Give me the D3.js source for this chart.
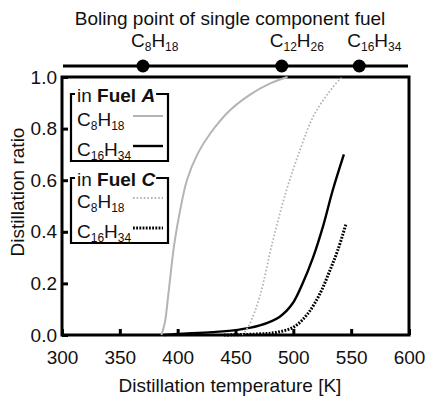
<!DOCTYPE html>
<html>
<head>
    <meta charset="utf-8">
    <script src="https://cdn.jsdelivr.net/npm/d3@7"></script>
    <style>
        body { margin: 0; background: #fff; }
        text { font-family: "Liberation Sans", Arial, sans-serif; }
    </style>
</head>
<body>
    <svg width="426" height="398" id="mainsvg"></svg>
    <script>
        // x ticks and y ticks
        const xTicks = [300, 350, 400, 450, 500, 550, 600];
        const yTicks = [0.0, 0.2, 0.4, 0.6, 0.8, 1.0];

        // boiling points of single component fuels [K]
        const boilNames = ['C8H18', 'C12H26', 'C16H34'];
        const boilTemps = [370, 490, 557];

        // distillation curves: [temperature K, ratio]
        const c8FuelA = [[386, 0], [389, 0.05], [392, 0.16], [397, 0.35], [402, 0.48], [408, 0.6], [417, 0.7],
            [428, 0.78], [445, 0.87], [462, 0.93], [480, 0.975], [495, 1.0]];
        const c16FuelA = [[388, 0], [400, 0.004], [430, 0.011], [452, 0.02], [471, 0.037], [488, 0.07],
            [499, 0.12], [508, 0.2], [517, 0.3], [525.6, 0.42], [534, 0.56], [543.7, 0.70]];
        const c8FuelC = [[456, 0], [462, 0.04], [471, 0.15], [482, 0.36], [494, 0.56], [506, 0.72],
            [517, 0.845], [529, 0.93], [540, 0.99], [543, 1.0]];
        const c16FuelC = [[440, 0], [470, 0.004], [485, 0.01], [500, 0.03], [512, 0.08], [523, 0.16],
            [531.6, 0.25], [538.5, 0.33], [545.5, 0.43]];

        const fuels = ['A', 'C'];
        const formulas = ['C8H18', 'C16H34'];

        const svg = d3.select('#mainsvg');
        const margin = { top: 77, right: 17, bottom: 63, left: 62 };
        const innerWidth = 426 - margin.left - margin.right;
        const innerHeight = 398 - margin.top - margin.bottom;
        const fs = 19;

        const xScale = d3.scaleLinear().domain([300, 600]).range([0, innerWidth]);
        const yScale = d3.scaleLinear().domain([0, 1]).range([innerHeight, 0]);

        const g = svg.append('g')
            .attr('transform', `translate(${margin.left}, ${margin.top})`);

        // write a chemical formula with subscript digits
        const formula = function (sel, str) {
            const parts = str.match(/[A-Z]+|\d+/g);
            let sub = false;
            parts.forEach(p => {
                const isSub = /\d/.test(p);
                sel.append('tspan')
                    .attr('font-size', isSub ? 12 : fs)
                    .attr('dy', isSub === sub ? 0 : (isSub ? 4 : -4))
                    .text(p);
                sub = isSub;
            });
        };

        // axes
        const xAxis = d3.axisBottom(xScale).tickValues(xTicks).tickSize(-6).tickPadding(16)
            .tickFormat(d3.format('d'));
        const yAxis = d3.axisLeft(yScale).tickValues(yTicks).tickSize(-6).tickPadding(5)
            .tickFormat(d3.format('.1f'));

        const xAxisGroup = g.append('g').attr('transform', `translate(0, ${innerHeight})`).call(xAxis);
        const yAxisGroup = g.append('g').call(yAxis);
        [xAxisGroup, yAxisGroup].forEach(ag => {
            ag.select('.domain').remove();
            ag.attr('font-size', fs).attr('font-family', null);
            ag.selectAll('line').attr('stroke', '#000').attr('stroke-width', 3);
            ag.selectAll('text').attr('fill', '#111');
        });

        // frame
        g.append('rect')
            .attr('width', innerWidth).attr('height', innerHeight)
            .attr('fill', 'none').attr('stroke', '#000').attr('stroke-width', 3);

        // curves
        const line = d3.line()
            .x(d => xScale(d[0]))
            .y(d => yScale(d[1]))
            .curve(d3.curveCatmullRom.alpha(0.5));

        const styles = {
            'A-C8H18': { stroke: '#b4b4b4', width: 2, dash: null },
            'A-C16H34': { stroke: '#000', width: 2.4, dash: null },
            'C-C8H18': { stroke: '#b4b4b4', width: 1.8, dash: '1.6,2' },
            'C-C16H34': { stroke: '#000', width: 3, dash: '1.8,1.4' }
        };
        const curves = [
            ['A-C8H18', c8FuelA], ['A-C16H34', c16FuelA],
            ['C-C8H18', c8FuelC], ['C-C16H34', c16FuelC]
        ];
        curves.forEach(([key, data]) => {
            g.append('path')
                .datum(data)
                .attr('d', line)
                .attr('fill', 'none')
                .attr('stroke', styles[key].stroke)
                .attr('stroke-width', styles[key].width)
                .attr('stroke-dasharray', styles[key].dash);
        });

        // legends
        fuels.forEach((fuel, i) => {
            const top = 17 + i * 84;
            const lg = g.append('g').attr('transform', `translate(9, ${top})`);
            const title = lg.append('text').attr('x', 6).attr('y', 8)
                .attr('font-size', fs).attr('fill', '#111');
            title.append('tspan').text('in ');
            title.append('tspan').attr('font-weight', 'bold').text('Fuel ');
            title.append('tspan').attr('font-weight', 'bold').attr('font-style', 'italic').text(fuel);
            const tw = title.node().getComputedTextLength();
            const w = 97, h = i === 0 ? 67 : 65;
            lg.append('path')
                .attr('d', `M${6 + tw + 1},0 H${w} V${h} H0 V0 H4`)
                .attr('fill', 'none').attr('stroke', '#000').attr('stroke-width', 2.2);
            formulas.forEach((f, j) => {
                const yb = 32 + j * 30 - (i === 0 ? 0 : 2);
                const t = lg.append('text').attr('x', 6).attr('y', yb)
                    .attr('font-size', fs).attr('fill', '#111');
                formula(t, f);
                const st = styles[fuel + '-' + f];
                lg.append('line')
                    .attr('x1', 62).attr('x2', 92)
                    .attr('y1', yb - 10).attr('y2', yb - 10)
                    .attr('stroke', st.stroke)
                    .attr('stroke-width', st.width)
                    .attr('stroke-dasharray', st.dash);
            });
        });

        // boiling point line above the plot
        const bg = g.append('g').attr('transform', 'translate(0, -11)');
        bg.append('line')
            .attr('x1', 1).attr('x2', innerWidth - 1)
            .attr('stroke', '#000').attr('stroke-width', 3);
        bg.selectAll('circle').data(boilTemps).join('circle')
            .attr('cx', d => xScale(d)).attr('cy', 0).attr('r', 6.5).attr('fill', '#000');
        boilNames.forEach((n, i) => {
            const t = bg.append('text')
                .attr('x', xScale(boilTemps[i]) - 12)
                .attr('y', -19)
                .attr('font-size', fs)
                .attr('fill', '#111');
            formula(t, n);
        });

        // titles
        svg.append('text')
            .attr('x', 230).attr('y', 25)
            .attr('text-anchor', 'middle').attr('font-size', fs).attr('fill', '#111')
            .text('Boling point of single component fuel');
        svg.append('text')
            .attr('x', 230).attr('y', 392)
            .attr('text-anchor', 'middle').attr('font-size', fs).attr('fill', '#111')
            .text('Distillation temperature [K]');
        svg.append('text')
            .attr('transform', 'translate(24, 192) rotate(-90)')
            .attr('text-anchor', 'middle').attr('font-size', fs).attr('fill', '#111')
            .text('Distillation ratio');
    </script>
</body>
</html>
